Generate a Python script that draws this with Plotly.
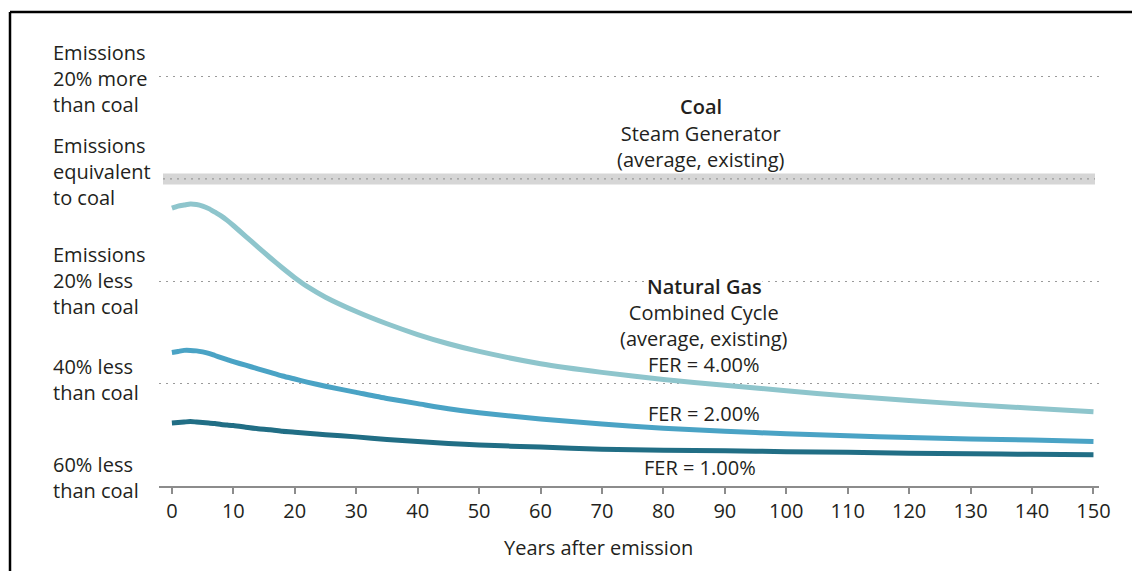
'''
    Line chart of the emissions ratio of natural gas combined cycle
    plants versus coal, for three fugitive emission rates (FER).
'''
import plotly.graph_objects as go

YEARS = [0, 1, 2, 3, 4, 5, 6, 7, 8, 9, 10, 12, 14, 16, 18, 20, 22,
         25, 30, 35, 40, 45, 50, 60, 70, 80, 90, 100, 110, 120, 130, 140, 150]

FER_4 = [0.943, 0.947, 0.949, 0.951, 0.950, 0.947, 0.942, 0.935, 0.928,
         0.919, 0.909, 0.888, 0.867, 0.846, 0.826, 0.807, 0.790, 0.769,
         0.741, 0.717, 0.696, 0.678, 0.663, 0.639, 0.622, 0.608, 0.597,
         0.586, 0.576, 0.567, 0.559, 0.552, 0.545]

FER_2 = [0.661, 0.663, 0.665, 0.665, 0.664, 0.662, 0.659, 0.655, 0.651,
         0.647, 0.643, 0.636, 0.629, 0.622, 0.615, 0.609, 0.603, 0.595,
         0.583, 0.571, 0.561, 0.551, 0.543, 0.531, 0.521, 0.513, 0.507,
         0.502, 0.498, 0.495, 0.492, 0.490, 0.487]

FER_1 = [0.523, 0.524, 0.525, 0.526, 0.525, 0.524, 0.523, 0.522, 0.520,
         0.519, 0.518, 0.515, 0.512, 0.510, 0.507, 0.505, 0.503, 0.500,
         0.496, 0.491, 0.487, 0.483, 0.480, 0.476, 0.472, 0.470, 0.469,
         0.467, 0.466, 0.464, 0.463, 0.462, 0.461]

COAL_RATIO = 1.0
GRID_VALUES = [0.6, 0.8, 1.2]
X_TICKS = list(range(0, 151, 10))

Y_LABELS = [
    'Emissions<br>20% more<br>than coal',
    'Emissions<br>equivalent<br>to coal',
    'Emissions<br>20% less<br>than coal',
    '40% less<br>than coal',
    '60% less<br>than coal',
]
# pixel centres of each label block
Y_LABEL_ROWS = [78, 171, 280, 379.5, 477.5]

SERIES = [
    (FER_4, '#8ec5cc'),
    (FER_2, '#4aa3c5'),
    (FER_1, '#216e85'),
]

FONT = 'Open Sans'
TEXT_COLOR = '#231f20'
W, H = 1132, 571
L, R, T, B = 159, 33, 51, 85


def px_x(x):
    '''Pixel x to paper coordinate.'''
    return (x - L) / (W - L - R)


def px_y(y):
    '''Pixel y to paper coordinate.'''
    return (H - B - y) / (H - T - B)


def text(x, y, label, weight='normal', anchor='center', bg=None, size=20):
    return dict(
        xref='paper', yref='paper', x=px_x(x), y=px_y(y),
        text=label,
        showarrow=False, xanchor=anchor, yanchor='middle', align=anchor,
        font=dict(family=FONT, size=size, color=TEXT_COLOR, weight=weight),
        bgcolor=bg, borderpad=0,
    )


fig = go.Figure()
for values, color in SERIES:
    fig.add_trace(go.Scatter(
        x=YEARS, y=values, mode='lines',
        line=dict(color=color, width=5, shape='spline', smoothing=0.6),
        hoverinfo='skip', showlegend=False,
    ))

annotations = [text(52, row, label, anchor='left')
               for label, row in zip(Y_LABELS, Y_LABEL_ROWS)]

annotations += [
    text(701, 106.5, 'Coal', weight=600),
    text(701, 146, 'Steam Generator<br>(average, existing)'),
    text(704, 286.5, 'Natural Gas', weight=600, bg='white'),
    text(704, 338.5, 'Combined Cycle<br>(average, existing)<br>FER = 4.00%'),
    text(704, 413, 'FER = 2.00%'),
    text(700, 467, 'FER = 1.00%'),
    text(598, 547, 'Years after emission'),
]

shapes = [
    # coal reference band
    dict(type='line', xref='paper', yref='y', x0=px_x(163), x1=px_x(1095),
         y0=COAL_RATIO, y1=COAL_RATIO, layer='below',
         line=dict(color='#d6d6d6', width=11)),
    dict(type='line', xref='paper', yref='y', x0=px_x(163), x1=px_x(1095),
         y0=COAL_RATIO, y1=COAL_RATIO, layer='below',
         line=dict(color='#9a9a9a', width=1.2, dash='2px,5px')),
    # frame
    dict(type='line', xref='paper', yref='paper', x0=px_x(10), x1=px_x(10),
         y0=px_y(12), y1=px_y(H), line=dict(color='black', width=2.5)),
    dict(type='line', xref='paper', yref='paper', x0=px_x(10), x1=px_x(W),
         y0=px_y(12), y1=px_y(12), line=dict(color='black', width=2.5)),
]

fig.update_layout(
    width=W, height=H,
    margin=dict(l=L, r=R, t=T, b=B),
    paper_bgcolor='white', plot_bgcolor='white',
    font=dict(family=FONT, size=20, color=TEXT_COLOR),
    annotations=annotations, shapes=shapes,
    showlegend=False,
)
fig.update_xaxes(
    range=[-2.1, 150.9], tickvals=X_TICKS, showgrid=False, zeroline=False,
    showline=True, linecolor='#8c8c8c', linewidth=1.5,
    ticks='outside', ticklen=6, tickcolor='#8c8c8c', tickwidth=1.5,
    tickfont=dict(family=FONT, size=20, color=TEXT_COLOR),
)
fig.update_yaxes(
    range=[0.4, 1.25], tickvals=GRID_VALUES, showticklabels=False,
    showgrid=True, gridcolor='#9a9a9a', gridwidth=1.2, griddash='2px,5px',
    zeroline=False, showline=False, ticks='',
)

fig.write_html('out.html', config={'displayModeBar': False},
               post_script="document.body.style.margin='0px';")
